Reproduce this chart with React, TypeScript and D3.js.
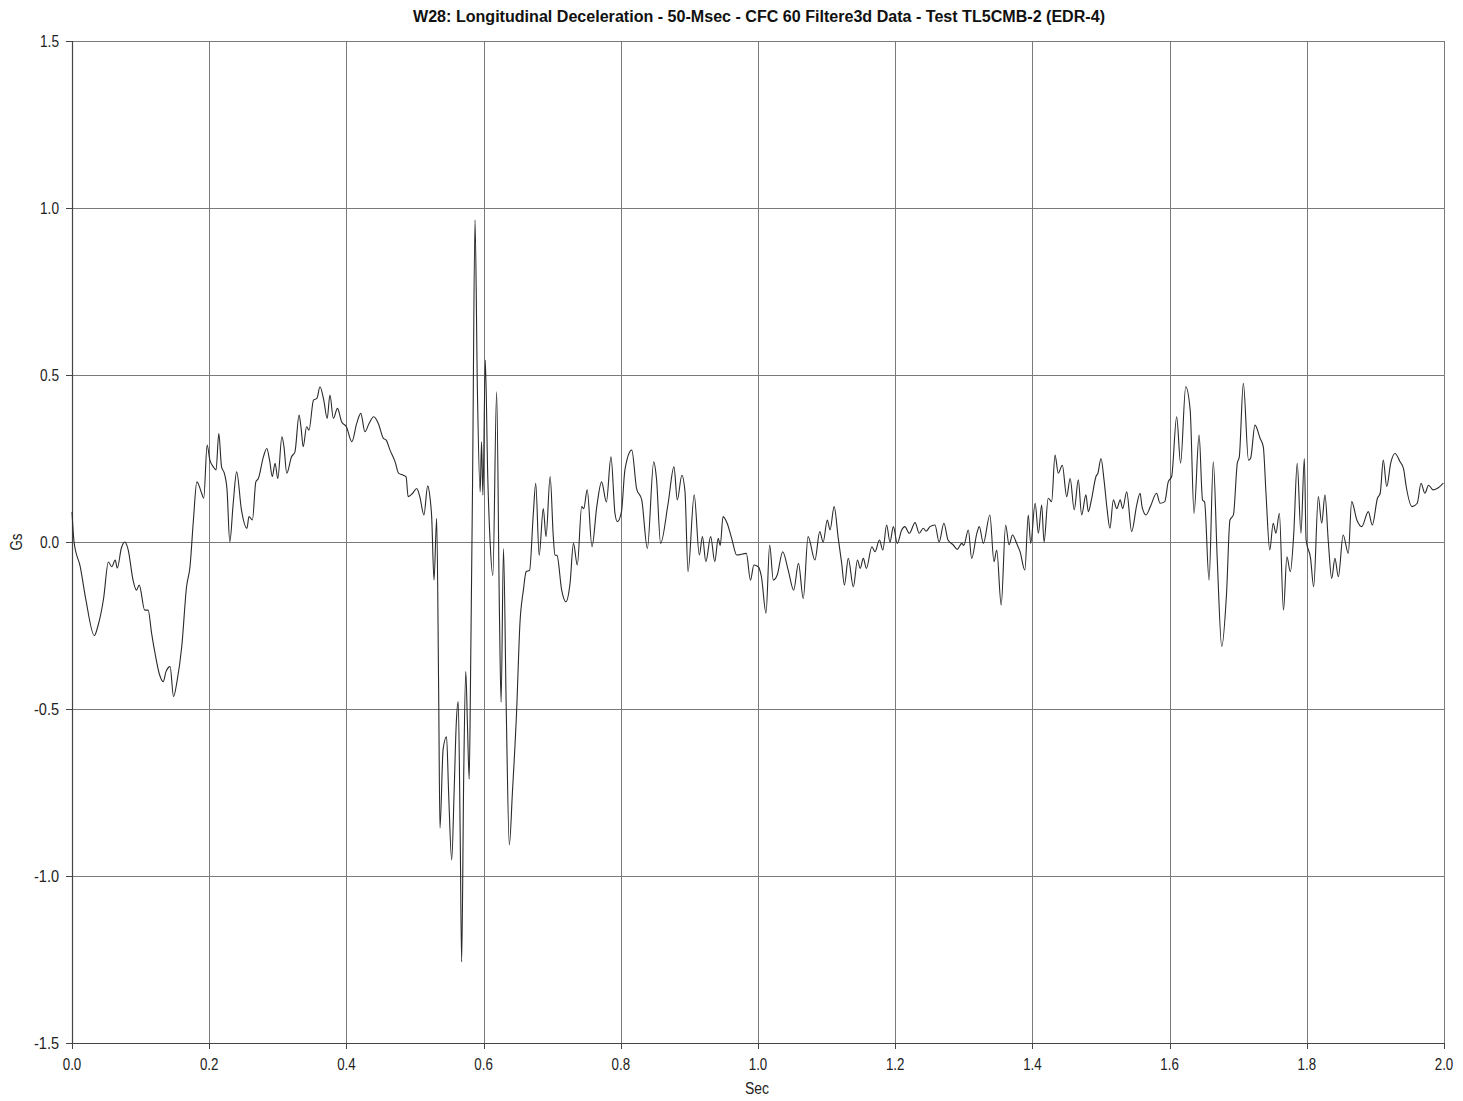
import React from "react";
import * as d3 from "d3";

const titleText = "W28: Longitudinal Deceleration - 50-Msec - CFC 60 Filtere3d Data - Test TL5CMB-2 (EDR-4)";
const xTicks = [0, 0.2, 0.4, 0.6, 0.8, 1.0, 1.2, 1.4, 1.6, 1.8, 2.0];
const yTicks = [-1.5, -1.0, -0.5, 0.0, 0.5, 1.0, 1.5];

const seg1: [number, number][] = [
  [0.000, 0.09], [0.003, 0.0], [0.012, -0.074], [0.02, -0.17], [0.0325, -0.28], [0.038, -0.25], [0.046, -0.17],
  [0.053, -0.06], [0.058, -0.074], [0.063, -0.054], [0.066, -0.078], [0.072, -0.018], [0.077, 0.0],
  [0.082, -0.024], [0.089, -0.114], [0.094, -0.144], [0.098, -0.129], [0.106, -0.204], [0.111, -0.204],
  [0.116, -0.273], [0.121, -0.333], [0.127, -0.393], [0.133, -0.418], [0.137, -0.388], [0.143, -0.373],
  [0.148, -0.463], [0.153, -0.418], [0.160, -0.313], [0.167, -0.134], [0.172, -0.074], [0.177, 0.066],
  [0.182, 0.18], [0.189, 0.146], [0.192, 0.131], [0.197, 0.29], [0.201, 0.245], [0.206, 0.225],
  [0.210, 0.216], [0.214, 0.325], [0.218, 0.225], [0.222, 0.206], [0.226, 0.156], [0.230, 0.0],
  [0.235, 0.116], [0.240, 0.21], [0.247, 0.096], [0.255, 0.041], [0.258, 0.076], [0.263, 0.066],
  [0.268, 0.18], [0.2716, 0.19], [0.279, 0.255], [0.284, 0.28], [0.288, 0.245], [0.292, 0.196],
  [0.296, 0.236], [0.300, 0.19], [0.306, 0.315], [0.309, 0.285], [0.313, 0.206], [0.320, 0.255],
  [0.325, 0.27], [0.331, 0.38], [0.334, 0.34], [0.337, 0.285], [0.342, 0.345], [0.3455, 0.335],
  [0.352, 0.425], [0.357, 0.43], [0.3615, 0.465], [0.367, 0.425], [0.372, 0.37], [0.376, 0.44],
  [0.381, 0.37], [0.387, 0.40], [0.393, 0.36], [0.400, 0.345], [0.408, 0.30], [0.415, 0.355],
  [0.421, 0.385], [0.427, 0.33], [0.433, 0.355], [0.440, 0.375], [0.4465, 0.355], [0.454, 0.31],
  [0.458, 0.305], [0.4636, 0.275], [0.471, 0.24], [0.476, 0.206], [0.483, 0.20], [0.487, 0.195],
  [0.490, 0.136], [0.4966, 0.146], [0.5025, 0.16], [0.507, 0.136], [0.513, 0.081], [0.5185, 0.168],
  [0.522, 0.131], [0.5243, 0.076],
];

const seg2: [number, number][] = [
  [0.5277, -0.114], [0.5316, 0.071], [0.5345, -0.45], [0.5364, -0.857], [0.541, -0.62], [0.546, -0.583],
  [0.549, -0.75], [0.5535, -0.952], [0.557, -0.75], [0.560, -0.55], [0.563, -0.478], [0.566, -0.9],
  [0.568, -1.257], [0.571, -0.7], [0.574, -0.388], [0.5765, -0.55], [0.579, -0.71], [0.581, -0.4],
  [0.584, 0.2], [0.5875, 0.964], [0.591, 0.45], [0.595, 0.15], [0.597, 0.3], [0.599, 0.14],
  [0.6025, 0.545], [0.606, 0.2], [0.6095, 0.0], [0.6135, -0.1], [0.619, 0.45], [0.623, -0.2],
  [0.6255, -0.48], [0.629, -0.02], [0.633, -0.5], [0.6375, -0.907], [0.642, -0.75], [0.648, -0.513],
  [0.653, -0.243], [0.658, -0.144], [0.662, -0.089], [0.667, -0.085],
];

const seg3: [number, number][] = [
  [0.6725, 0.086], [0.676, 0.176], [0.681, -0.04], [0.687, 0.1], [0.691, 0.016], [0.697, 0.196],
  [0.7016, 0.016], [0.704, -0.039], [0.707, -0.04], [0.7138, -0.144], [0.720, -0.179], [0.726, -0.124],
  [0.731, -0.004], [0.7366, -0.069], [0.743, 0.106], [0.746, 0.1], [0.751, 0.156], [0.758, -0.014],
  [0.765, 0.106], [0.772, 0.18], [0.779, 0.12], [0.7857, 0.255], [0.7915, 0.086], [0.795, 0.061],
  [0.801, 0.091], [0.806, 0.216], [0.816, 0.275], [0.823, 0.16], [0.8305, 0.126], [0.8387, -0.019],
  [0.848, 0.24], [0.852, 0.19], [0.858, -0.004], [0.869, 0.116], [0.8775, 0.225], [0.8824, 0.126],
  [0.889, 0.2], [0.8936, 0.15], [0.898, -0.089], [0.907, 0.141], [0.9145, -0.039], [0.919, 0.016],
  [0.924, -0.059], [0.931, 0.016], [0.937, -0.059], [0.942, 0.011], [0.945, -0.01], [0.949, 0.076],
  [0.955, 0.056], [0.9616, 0.011], [0.969, -0.039], [0.983, -0.034], [0.989, -0.114], [0.994, -0.069],
  [1.0004, -0.074], [1.005, -0.104], [1.0117, -0.213], [1.017, -0.009], [1.0223, -0.114], [1.028, -0.099],
  [1.036, -0.029], [1.044, -0.084], [1.052, -0.144], [1.059, -0.064], [1.066, -0.169], [1.073, 0.016],
  [1.083, -0.054], [1.090, 0.031], [1.095, 0.0], [1.101, 0.066], [1.105, 0.036], [1.111, 0.106],
  [1.117, 0.011], [1.122, -0.064], [1.126, -0.129], [1.1316, -0.049], [1.139, -0.134], [1.145, -0.054],
  [1.149, -0.079], [1.1535, -0.049], [1.158, -0.079], [1.166, -0.014], [1.1706, -0.029], [1.177, 0.006],
  [1.182, -0.024], [1.1875, 0.051], [1.1924, 0.0], [1.1973, 0.046], [1.203, -0.004], [1.2095, 0.036],
  [1.214, 0.046], [1.2206, 0.026], [1.229, 0.058], [1.235, 0.026], [1.241, 0.041], [1.245, 0.032],
  [1.2507, 0.046], [1.258, 0.051], [1.264, 0.0], [1.271, 0.056], [1.277, 0.006], [1.2847, -0.009],
  [1.2905, -0.022], [1.297, -0.004], [1.300, -0.01], [1.3066, 0.036], [1.3115, -0.049], [1.319, 0.026],
  [1.3226, 0.046], [1.3285, -0.004], [1.338, 0.081], [1.344, -0.059], [1.348, -0.024], [1.3545, -0.189],
  [1.361, 0.051], [1.366, -0.009], [1.371, 0.021], [1.377, -0.004], [1.382, -0.029], [1.389, -0.084],
  [1.394, 0.081], [1.3975, -0.004], [1.404, 0.116], [1.4087, 0.026], [1.4135, 0.111], [1.417, 0.0],
];

const seg4: [number, number][] = [
  [1.423, 0.131], [1.428, 0.121], [1.433, 0.26], [1.4377, 0.206], [1.4436, 0.23], [1.450, 0.136],
  [1.455, 0.19], [1.461, 0.096], [1.4669, 0.186], [1.4718, 0.081], [1.478, 0.141], [1.4815, 0.091],
  [1.486, 0.126], [1.4927, 0.196], [1.4955, 0.206], [1.500, 0.25], [1.5044, 0.186], [1.509, 0.096],
  [1.513, 0.041], [1.518, 0.126], [1.523, 0.10], [1.528, 0.126], [1.5316, 0.10], [1.5375, 0.15],
  [1.5447, 0.031], [1.552, 0.11], [1.557, 0.146], [1.5598, 0.106], [1.5656, 0.081], [1.572, 0.106],
  [1.581, 0.146], [1.586, 0.116], [1.593, 0.121], [1.598, 0.18], [1.603, 0.196], [1.6103, 0.375],
  [1.616, 0.236], [1.6235, 0.465], [1.630, 0.395], [1.6356, 0.086], [1.643, 0.32], [1.648, 0.126],
  [1.651, 0.12], [1.6575, -0.114], [1.6637, 0.24], [1.6695, -0.054], [1.676, -0.313], [1.683, -0.154],
  [1.688, 0.066], [1.693, 0.081], [1.6987, 0.236], [1.7016, 0.255], [1.7075, 0.475], [1.715, 0.245],
  [1.718, 0.25], [1.7245, 0.35], [1.732, 0.31], [1.7366, 0.285], [1.7405, 0.146], [1.746, -0.024],
  [1.751, 0.056], [1.755, 0.026], [1.760, 0.086], [1.766, -0.204], [1.771, -0.044], [1.776, -0.089],
  [1.781, 0.026], [1.786, 0.236], [1.7915, 0.026], [1.7964, 0.25], [1.799, 0.006], [1.8055, -0.049],
  [1.810, -0.134], [1.8168, 0.136], [1.8217, 0.056], [1.8265, 0.141], [1.8314, 0.0], [1.8363, -0.109],
  [1.841, -0.049], [1.846, -0.104], [1.853, 0.021], [1.8605, -0.034], [1.8654, 0.121], [1.873, 0.066],
  [1.880, 0.046], [1.8897, 0.091], [1.8955, 0.051], [1.903, 0.131], [1.907, 0.146], [1.9115, 0.245],
  [1.9165, 0.166], [1.9223, 0.236], [1.9286, 0.265], [1.936, 0.24], [1.941, 0.22], [1.9446, 0.17],
  [1.9534, 0.106], [1.961, 0.116], [1.9665, 0.176], [1.972, 0.146], [1.9776, 0.17], [1.984, 0.156],
  [1.990, 0.16], [1.999, 0.176],
];

const series: [number, number][] = [...seg1, ...seg2, ...seg3, ...seg4];

const W = 1463;
const H = 1101;
const left = 72;
const right = 1444;
const top = 41;
const bottom = 1043;

const fontFam = "'Liberation Sans Narrow', 'Arial Narrow', 'Liberation Sans', Arial, sans-serif";

export default function App() {
  const x = d3.scaleLinear().domain([0, 2]).range([left, right]);
  const y = d3.scaleLinear().domain([-1.5, 1.5]).range([bottom, top]);
  const line = d3
    .line<[number, number]>()
    .x((d) => x(d[0]))
    .y((d) => y(d[1]))
    .curve(d3.curveMonotoneX);
  const fmt = (v: number) => (Math.abs(v) < 1e-9 ? "0.0" : v.toFixed(1));
  const gridColor = "#7a7a7a";
  const labelLen = (s: string) => (s.startsWith("-") ? 25 : 19);

  return (
    <svg
      width={W}
      height={H}
      style={{ position: "absolute", left: 0, top: 0, background: "#fff" }}
    >
      <rect x={0} y={0} width={W} height={H} fill="#fff" />
      {xTicks.map((t) => (
        <line
          key={"gx" + t}
          x1={Math.round(x(t)) + 0.5}
          x2={Math.round(x(t)) + 0.5}
          y1={top}
          y2={bottom}
          stroke={gridColor}
          strokeWidth={1}
        />
      ))}
      {yTicks.map((t) => (
        <line
          key={"gy" + t}
          x1={left}
          x2={right}
          y1={Math.round(y(t)) + 0.5}
          y2={Math.round(y(t)) + 0.5}
          stroke={gridColor}
          strokeWidth={1}
        />
      ))}
      <line x1={left + 0.5} x2={left + 0.5} y1={top} y2={bottom + 1} stroke="#444" strokeWidth={1.2} />
      <line x1={left} x2={right + 1} y1={bottom + 0.5} y2={bottom + 0.5} stroke="#444" strokeWidth={1.2} />
      {yTicks.map((t) => (
        <g key={"ty" + t}>
          <line
            x1={left - 6}
            x2={left}
            y1={Math.round(y(t)) + 0.5}
            y2={Math.round(y(t)) + 0.5}
            stroke="#444"
          />
          <text
            x={left - 13}
            y={y(t)}
            dy="0.36em"
            textAnchor="end"
            fontFamily={fontFam}
            fontSize={16}
            fill="#222"
            textLength={labelLen(fmt(t))}
            lengthAdjust="spacingAndGlyphs"
          >
            {fmt(t)}
          </text>
        </g>
      ))}
      {xTicks.map((t) => (
        <g key={"tx" + t}>
          <line
            x1={Math.round(x(t)) + 0.5}
            x2={Math.round(x(t)) + 0.5}
            y1={bottom}
            y2={bottom + 6}
            stroke="#444"
          />
          <text
            x={x(t)}
            y={bottom + 27}
            textAnchor="middle"
            fontFamily={fontFam}
            fontSize={16}
            fill="#222"
            textLength={18.5}
            lengthAdjust="spacingAndGlyphs"
          >
            {fmt(t)}
          </text>
        </g>
      ))}
      <path d={line(series) || ""} fill="none" stroke="#2a2a2a" strokeWidth={1.1} />
      <text
        x={759}
        y={22}
        textAnchor="middle"
        fontFamily={fontFam}
        fontWeight="bold"
        fontSize={16}
        fill="#111"
        textLength={692}
        lengthAdjust="spacingAndGlyphs"
      >
        {titleText}
      </text>
      <text
        x={757}
        y={1094}
        textAnchor="middle"
        fontFamily={fontFam}
        fontSize={16}
        fill="#222"
        textLength={24}
        lengthAdjust="spacingAndGlyphs"
      >
        Sec
      </text>
      <text
        transform={`translate(22, ${y(0)}) rotate(-90)`}
        textAnchor="middle"
        fontFamily={fontFam}
        fontSize={16}
        fill="#222"
        textLength={17}
        lengthAdjust="spacingAndGlyphs"
      >
        Gs
      </text>
    </svg>
  );
}
